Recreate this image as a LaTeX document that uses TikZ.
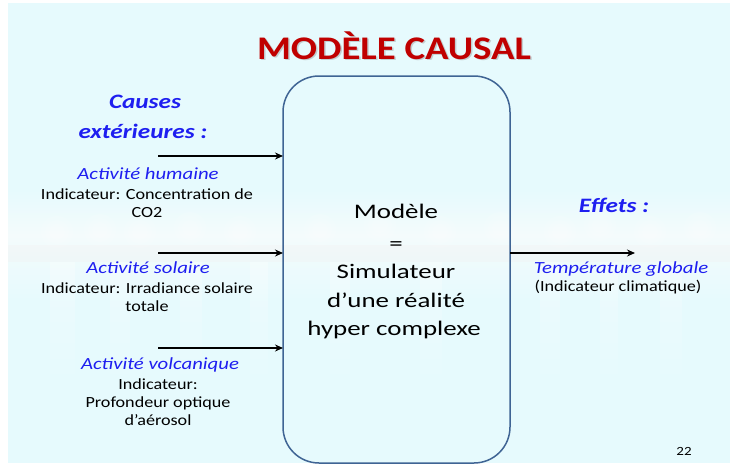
\documentclass[tikz,border=0pt]{standalone}
\usepackage{graphicx}
\usepackage{fontspec}
\setmainfont{Carlito}
\usetikzlibrary{arrows.meta}
\definecolor{bgc}{HTML}{E6FAFD}
\definecolor{bandc}{HTML}{F4FBFC}
\definecolor{titlered}{HTML}{C00000}
\definecolor{causeblue}{HTML}{1E1EF0}
\definecolor{boxline}{HTML}{3F6494}
\newcommand{\hx}[2]{\scalebox{#1}[1]{#2}}
\tikzset{
  every node/.style={inner sep=0pt, outer sep=0pt},
  bodytxt/.style={anchor=base, font=\fontsize{15.5}{18}\selectfont},
  itxt/.style={anchor=base, text=causeblue, font=\fontsize{17}{20}\selectfont\itshape},
  head/.style={anchor=base, text=causeblue, font=\fontsize{20.5}{24}\selectfont\bfseries\itshape},
  boxtxt/.style={anchor=base, font=\fontsize{20.7}{24}\selectfont},
  titletxt/.style={anchor=base, font=\fontsize{33}{36}\selectfont\bfseries},
  arr/.style={line width=2.4pt, -{Stealth[length=8pt,width=7pt]}},
}
\begin{document}
\begin{tikzpicture}[x=1pt,y=-1pt]
\useasboundingbox (0,0) rectangle (730,466);
\fill[white] (0,0) rectangle (730,466);
\fill[bgc] (8,3) rectangle (730,463);
% faint blurred background band
\begin{scope}
\clip (8,3) rectangle (730,463);
\shade[top color=bgc, bottom color=bandc] (8,190) rectangle (730,235);
\shade[top color=bandc, bottom color=bgc] (8,235) rectangle (730,300);
\foreach \cx/\cy in {57/232, 100/230, 140/232, 190/228, 240/232, 320/230, 380/225, 440/232, 500/228, 560/232, 600/225, 650/232, 700/228}{
  \foreach \r in {16,12,8}{\fill[white, opacity=0.12] (\cx,\cy) circle (\r);}
}
\fill[red!25, opacity=0.06] (8,245) rectangle (730,262);
\foreach \cx/\w in {50/25, 110/20, 180/22, 250/18, 330/20, 420/22, 540/20, 600/18, 660/22}{
  \shade[top color=white, bottom color=bgc, opacity=0.3] (\cx,262) rectangle ++(\w,130);
}
\end{scope}
% title with shadow
\node[titletxt, text=black!50, opacity=0.35] (titleshadow) at (395.5,60.5) {\hx{1.175}{MODÈLE CAUSAL}};
\node[titletxt, text=titlered] (title) at (394,59) {\hx{1.175}{MODÈLE CAUSAL}};
% box
\draw[boxline, line width=1.5pt, rounded corners=36pt] (283,76) rectangle (510,463);
\coordinate (boxW1) at (283,156);
\coordinate (boxW2) at (283,253);
\coordinate (boxW3) at (283,348);
\coordinate (boxE) at (510,253);
\coordinate (in1) at (158,156);
\coordinate (in2) at (158,253);
\coordinate (in3) at (158,348);
\coordinate (out) at (635,253);
\draw[arr] (in1) -- (boxW1);
\draw[arr] (in2) -- (boxW2);
\draw[arr] (in3) -- (boxW3);
\draw[arr] (boxE) -- (out);
% box text
\node[boxtxt] (m1) at (396,218) {\hx{1.3}{Modèle}};
\node[boxtxt] (m2) at (396,250) {\hx{1.3}{=}};
\node[boxtxt] (m3) at (396,278) {\hx{1.3}{Simulateur}};
\node[boxtxt] (m4) at (396,307) {\hx{1.3}{d’une réalité}};
\node[boxtxt] (m5) at (394,335) {\hx{1.3}{hyper complexe}};
% causes
\node[head] (c1) at (145,108) {\hx{1.23}{Causes}};
\node[head] (c2) at (143,138) {\hx{1.23}{extérieures :}};
\node[itxt] (a1) at (148,179) {\hx{1.22}{Activité humaine}};
\node[bodytxt] (a1b) at (147,199) {\hx{1.17}{Indicateur: Concentration de}};
\node[bodytxt] (a1c) at (147,217) {\hx{1.17}{CO2}};
\node[itxt] (a2) at (148,273) {\hx{1.22}{Activité solaire}};
\node[bodytxt] (a2b) at (147,293) {\hx{1.17}{Indicateur: Irradiance solaire}};
\node[bodytxt] (a2c) at (147,311) {\hx{1.17}{totale}};
\node[itxt] (a3) at (160,369) {\hx{1.22}{Activité volcanique}};
\node[bodytxt] (a3b) at (158,389) {\hx{1.17}{Indicateur:}};
\node[bodytxt] (a3c) at (158,407) {\hx{1.17}{Profondeur optique}};
\node[bodytxt] (a3d) at (158,425) {\hx{1.17}{d’aérosol}};
% effects
\node[head] (e1) at (614,212) {\hx{1.23}{Effets :}};
\node[itxt] (t1) at (621,273) {\hx{1.22}{Température globale}};
\node[bodytxt] (t2) at (618,291) {\hx{1.17}{(Indicateur climatique)}};
\node[anchor=base, font=\fontsize{12.5}{14}\selectfont] (pg) at (684,455) {\hx{1.2}{22}};
\end{tikzpicture}
\end{document}
